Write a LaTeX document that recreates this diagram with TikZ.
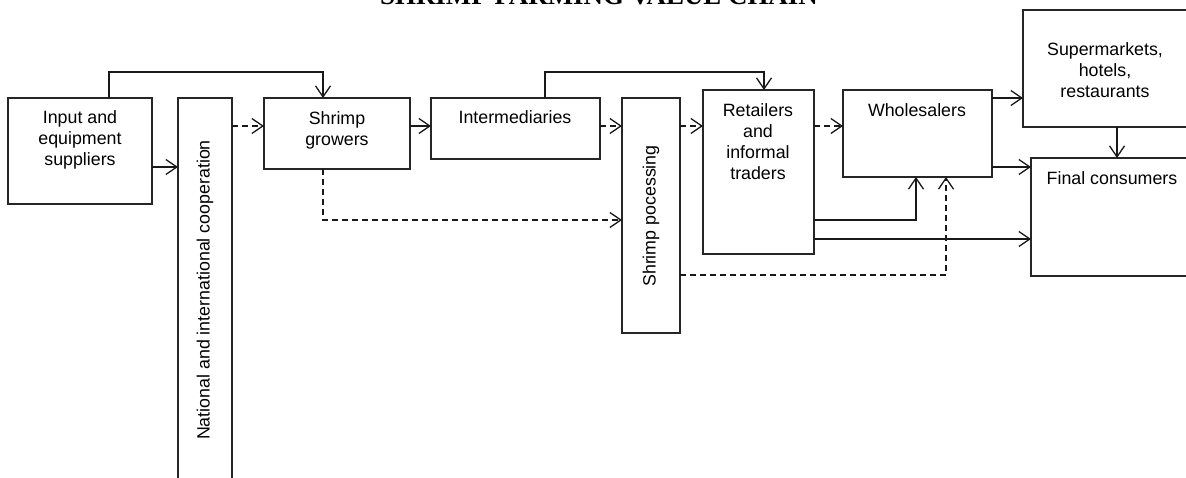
\documentclass[tikz,border=0pt]{standalone}
\usepackage{fontspec}
\setmainfont{Liberation Sans}
\newfontfamily\titlefont{Liberation Serif}
\usetikzlibrary{arrows.meta,calc}
\begin{document}
\begin{tikzpicture}[x=1pt,y=-1pt,
  box/.style={draw=black!85, line width=1.3pt, rectangle, inner sep=0pt, outer sep=0pt, anchor=north west},
  lbl/.style={font=\fontsize{17.8}{21}\selectfont, align=center, anchor=north, inner sep=0pt},
  vlbl/.style={font=\fontsize{17.8}{21}\selectfont, rotate=90, inner sep=0pt},
  arr/.style={-{Straight Barb[length=11pt,width=15pt]}, line width=1.3pt, black!90},
  dsh/.style={arr, dash pattern=on 6pt off 4pt}]
\clip (0,0) rectangle (1186,478);
\fill[white] (0,0) rectangle (1186,478);
\node[font=\titlefont\bfseries\fontsize{26.9}{30}\selectfont, anchor=base, inner sep=0pt] (title) at (599,5) {SHRIMP FARMING VALUE CHAIN};
% boxes
\node[box, minimum width=144pt, minimum height=106pt] (inp) at (8,98) {};
\node[box, minimum width=54pt, minimum height=420pt] (nat) at (178,98) {};
\node[box, minimum width=146pt, minimum height=71pt] (gro) at (264,98) {};
\node[box, minimum width=169pt, minimum height=61pt] (int) at (431,98) {};
\node[box, minimum width=58pt, minimum height=235pt] (spr) at (622,98) {};
\node[box, minimum width=111pt, minimum height=164pt] (ret) at (703,90) {};
\node[box, minimum width=149pt, minimum height=87pt] (who) at (843,90) {};
\node[box, minimum width=170pt, minimum height=117pt] (sup) at (1023,10) {};
\node[box, minimum width=162pt, minimum height=118pt] (fin) at (1031,158) {};
% labels
\node[lbl] (tinp) at (80,110) {Input and\\equipment\\suppliers};
\node[vlbl] (tnat) at (205,290) {National and international cooperation};
\node[lbl] (tgro) at (337,111) {Shrimp\\growers};
\node[lbl] (tint) at (515,110) {Intermediaries};
\node[vlbl] (tspr) at (651,216) {Shrimp pocessing};
\node[lbl] (tret) at (758,103) {Retailers\\and\\informal\\traders};
\node[lbl] (twho) at (917,103) {Wholesalers};
\node[lbl] (tsup) at (1105,42) {Supermarkets,\\hotels,\\restaurants};
\node[lbl] (tfin) at (1112,171) {Final consumers};
% connectors
\draw[arr] ($(inp.north west)+(101,0)$) |- ($(gro.north west)+(59,-26)$) -- ($(gro.north west)+(59,0)$);
\draw[arr] ($(inp.north east)+(0,69)$) -- ($(nat.north west)+(0,69)$);
\draw[dsh] ($(nat.north east)+(0,28)$) -- ($(gro.north west)+(0,28)$);
\draw[arr] ($(gro.north east)+(0,28)$) -- ($(int.north west)+(0,28)$);
\draw[dsh] ($(gro.south west)+(59,0)$) |- ($(spr.north west)+(0,122)$);
\draw[dsh] ($(int.north east)+(0,28)$) -- ($(spr.north west)+(0,28)$);
\draw[arr] ($(int.north west)+(114,0)$) |- ($(ret.north west)+(61,-18)$) -- ($(ret.north west)+(61,0)$);
\draw[dsh] ($(spr.north east)+(0,28)$) -- ($(ret.north west)+(0,36)$);
\draw[dsh] ($(ret.north east)+(0,36)$) -- ($(who.north west)+(0,36)$);
\draw[arr] ($(who.north east)+(0,8)$) -- ($(sup.north west)+(0,88)$);
\draw[arr] ($(who.north east)+(0,77)$) -- ($(fin.north west)+(0,9)$);
\draw[arr] ($(sup.south west)+(94,0)$) -- ($(fin.north west)+(86,0)$);
\draw[arr] ($(ret.north east)+(0,130)$) -| ($(who.south west)+(73,0)$);
\draw[arr] ($(ret.north east)+(0,149)$) -- ($(fin.north west)+(0,81)$);
\draw[dsh] ($(spr.north east)+(0,177)$) -| ($(who.south west)+(103,0)$);
\end{tikzpicture}
\end{document}
